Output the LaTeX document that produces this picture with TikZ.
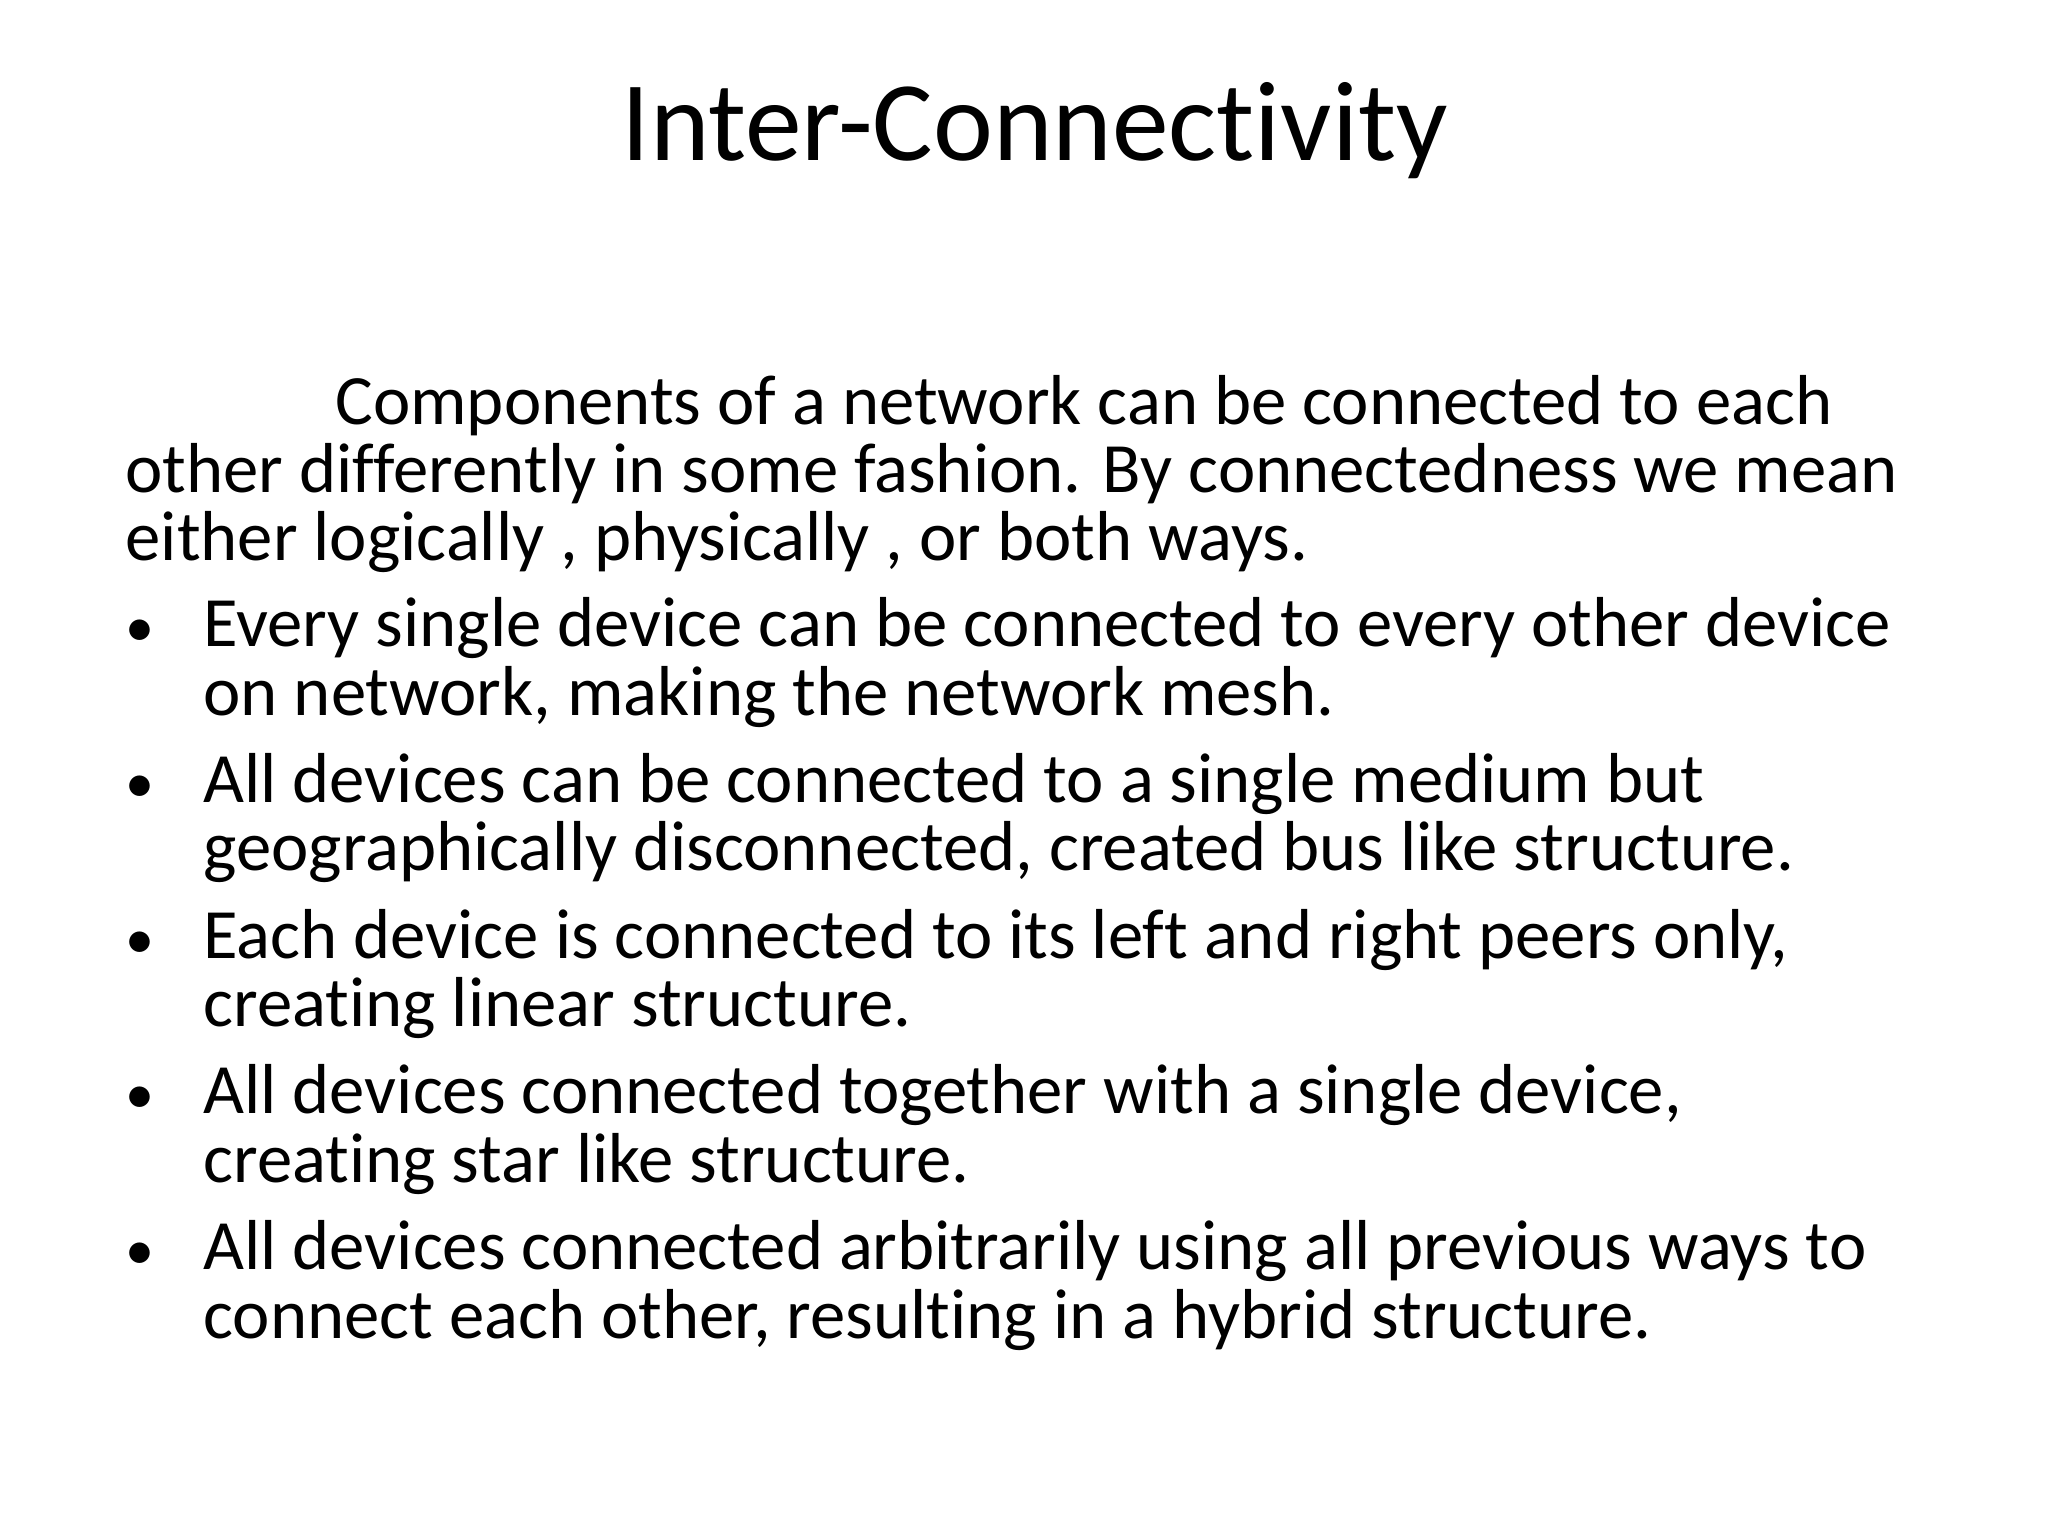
\documentclass[tikz,border=0pt]{standalone}
\usepackage{fontspec}
\setmainfont[Ligatures={NoCommon}]{Carlito}
\begin{document}
\begin{tikzpicture}[x=1pt,y=1pt,
  body/.style={anchor=base west,inner sep=0pt,font=\fontsize{53.6}{58}\selectfont},
  bul/.style={anchor=base west,inner sep=0pt,font=\fontsize{44}{50}\selectfont}]
\useasboundingbox (0,0) rectangle (1552,-1164);
\node[anchor=base,inner sep=0pt,font=\fontsize{86}{90}\selectfont] (title) at (784,-122) {Inter-Connectivity};
\node[body] (p1) at (254,-322) {Components of a network can be connected to each};
\node[body] (p2) at (95,-373) {other differently in some fashion. By connectedness we mean};
\node[body] (p3) at (95,-425) {either logically , physically , or both ways.};
\foreach \i/\y/\a/\b in {
 1/490/{Every single device can be connected to every other device}/{on network, making the network mesh.},
 2/608/{All devices can be connected to a single medium but}/{geographically disconnected, created bus like structure.},
 3/726/{Each device is connected to its left and right peers only,}/{creating linear structure.},
 4/844/{All devices connected together with a single device,}/{creating star like structure.},
 5/962/{All devices connected arbitrarily using all previous ways to}/{connect each other, resulting in a hybrid structure.}}{
  \node[bul] (d\i) at (95,-\y) {\textbullet};
  \node[body] (a\i) at (154,-\y) {\a};
  \node[body] (b\i) at (154,-\y-52) {\b};
}
\end{tikzpicture}
\end{document}
